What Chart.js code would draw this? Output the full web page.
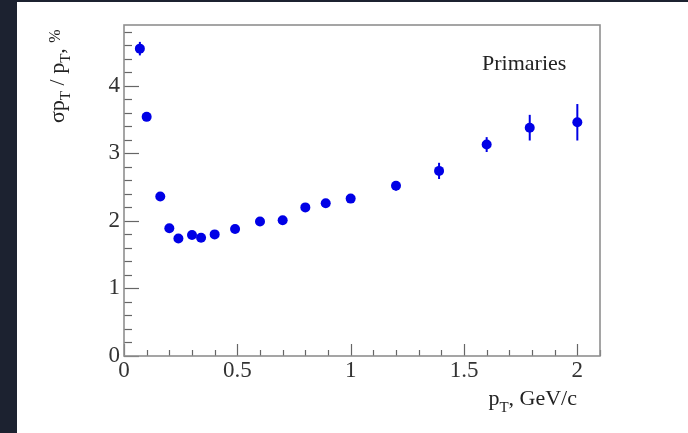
<!DOCTYPE html>
<html>
<head>
<meta charset="utf-8">
<script src="https://cdn.jsdelivr.net/npm/chart.js@4"></script>
<style>
  html, body { margin: 0; padding: 0; background: #1c2230; width: 688px; height: 433px; overflow: hidden; }
  #wrap { position: absolute; left: 17px; top: 2px; width: 671px; height: 431px; background: #fff; }
</style>
</head>
<body>
<div id="wrap"><canvas id="chart" width="671" height="431"></canvas></div>
<script>
const pt = [0.07, 0.10, 0.16, 0.20, 0.24, 0.30, 0.34, 0.40, 0.49, 0.60, 0.70, 0.80, 0.89, 1.00, 1.20, 1.39, 1.60, 1.79, 2.00];
const resolution = [4.55, 3.54, 2.36, 1.89, 1.74, 1.79, 1.75, 1.80, 1.88, 1.99, 2.01, 2.20, 2.26, 2.33, 2.52, 2.74, 3.13, 3.38, 3.46];
const errors = [0.10, 0.04, 0.03, 0.03, 0.03, 0.03, 0.03, 0.03, 0.03, 0.03, 0.03, 0.03, 0.04, 0.04, 0.07, 0.12, 0.11, 0.19, 0.27];
const xMajor = [0, 0.5, 1, 1.5, 2];
const yMajor = [0, 1, 2, 3, 4];

const FONT = "'Liberation Serif', 'DejaVu Serif', serif";
const BLUE = "#0000e6";

const isMajor = (v, list) => list.some(m => Math.abs(m - v) < 1e-6);

// error bars, ticks inside the frame, frame and titles
const rootStyle = {
  id: "rootStyle",
  beforeDatasetsDraw(chart) {
    const { ctx, scales: { x, y } } = chart;
    ctx.save();
    ctx.strokeStyle = BLUE;
    ctx.lineWidth = 2;
    pt.forEach((v, i) => {
      const px = x.getPixelForValue(v);
      ctx.beginPath();
      ctx.moveTo(px, y.getPixelForValue(resolution[i] - errors[i]));
      ctx.lineTo(px, y.getPixelForValue(resolution[i] + errors[i]));
      ctx.stroke();
    });
    ctx.restore();
  },
  afterDraw(chart) {
    const { ctx, chartArea: a, scales: { x, y } } = chart;
    ctx.save();
    ctx.strokeStyle = "#666";
    ctx.lineWidth = 1.2;
    x.ticks.forEach(t => {
      const px = Math.round(x.getPixelForValue(t.value)) + 0.5;
      const len = isMajor(t.value, xMajor) ? 12 : 6;
      ctx.beginPath();
      ctx.moveTo(px, a.bottom);
      ctx.lineTo(px, a.bottom - len);
      ctx.stroke();
    });
    y.ticks.forEach(t => {
      const py = Math.round(y.getPixelForValue(t.value)) + 0.5;
      const len = isMajor(t.value, yMajor) ? 15 : 8;
      ctx.beginPath();
      ctx.moveTo(a.left, py);
      ctx.lineTo(a.left + len, py);
      ctx.stroke();
    });
    ctx.strokeStyle = "#8f8f8f";
    ctx.lineWidth = 1.6;
    ctx.strokeRect(a.left, a.top, a.right - a.left, a.bottom - a.top);

    ctx.fillStyle = "#222";
    ctx.textBaseline = "alphabetic";
    ctx.font = "22px " + FONT;
    ctx.textAlign = "left";
    ctx.fillText("Primaries", 465, 68);

    // x title: p_T, GeV/c (right aligned)
    const big = "22px " + FONT, sub = "15px " + FONT;
    ctx.font = big; const wp = ctx.measureText("p").width;
    ctx.font = sub; const wt = ctx.measureText("T").width;
    ctx.font = big; const wr = ctx.measureText(", GeV/c").width;
    let xs = 560 - (wp + wt + wr);
    const by = 403;
    ctx.font = big; ctx.fillText("p", xs, by); xs += wp;
    ctx.font = sub; ctx.fillText("T", xs, by + 7); xs += wt;
    ctx.font = big; ctx.fillText(", GeV/c", xs, by);

    // y title: σp_T / p_T, %
    ctx.translate(47, 121);
    ctx.rotate(-Math.PI / 2);
    const parts = [
      ["σp", big, 0], ["T", sub, 6], [" / p", big, 0], ["T", sub, 6], [", ", big, 0], ["%", "16px " + FONT, -4]
    ];
    let cx = 0;
    parts.forEach(([txt, f, dy]) => {
      ctx.font = f;
      ctx.fillText(txt, cx, dy);
      cx += ctx.measureText(txt).width;
    });
    ctx.restore();
  }
};

new Chart(document.getElementById("chart"), {
  type: "scatter",
  data: {
    datasets: [{
      label: "Primaries",
      data: pt.map((v, i) => ({ x: v, y: resolution[i] })),
      backgroundColor: BLUE,
      borderColor: BLUE,
      pointRadius: 5,
      pointHoverRadius: 5,
      borderWidth: 0
    }]
  },
  options: {
    responsive: false,
    animation: false,
    layout: { padding: { left: 0, top: 23, right: 88, bottom: 0 } },
    plugins: { legend: { display: false }, tooltip: { enabled: false } },
    scales: {
      x: {
        type: "linear",
        min: 0, max: 2.1,
        grid: { display: false, drawTicks: false },
        border: { display: false },
        afterFit: s => { s.height = 77; },
        ticks: {
          stepSize: 0.1,
          autoSkip: false,
          includeBounds: false,
          maxRotation: 0,
          padding: 1,
          color: "#333",
          font: { family: FONT, size: 23 },
          callback: v => isMajor(v, xMajor) ? String(+v.toFixed(1)) : ""
        }
      },
      y: {
        type: "linear",
        min: 0, max: 4.9,
        grid: { display: false, drawTicks: false },
        border: { display: false },
        afterFit: s => { s.width = 107; },
        ticks: {
          stepSize: 0.2,
          autoSkip: false,
          includeBounds: false,
          padding: 4,
          color: "#333",
          font: { family: FONT, size: 23 },
          callback: v => isMajor(v, yMajor) ? String(Math.round(v)) : ""
        }
      }
    }
  },
  plugins: [rootStyle]
});
</script>
</body>
</html>
